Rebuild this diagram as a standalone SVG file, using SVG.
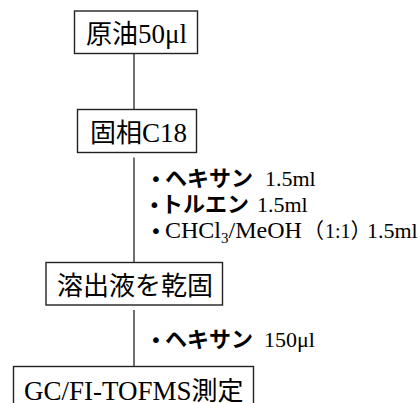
<svg xmlns="http://www.w3.org/2000/svg" width="420" height="403" viewBox="0 0 420 403">
<style>
.box{fill:#fff;stroke:#222;stroke-width:1.4}
.ln{stroke:#333;stroke-width:1.4;fill:none}
.t{fill:#000}
.jb{font-family:"Noto Sans CJK JP",sans-serif;font-size:26px}
.lb{font-family:"Liberation Serif",serif;font-size:27px}
.js{font-family:"Noto Sans CJK JP",sans-serif;font-size:22px;font-weight:bold}
.jp{font-family:"Noto Sans CJK JP",sans-serif;font-size:21px}
.ls{font-family:"Liberation Serif",serif;font-size:22px}
.bu{font-family:"DejaVu Sans",sans-serif;font-size:20px}
</style>
<rect width="420" height="403" fill="#fff"/>
<g id="connectors">
<line class="ln" x1="134" y1="53.5" x2="134" y2="109.5"/>
<line class="ln" x1="134" y1="157.5" x2="134" y2="262.5"/>
<line class="ln" x1="134" y1="310" x2="134" y2="366.5"/>
</g>
<g id="node1">
<rect class="box" x="74.5" y="11" width="123" height="42.5"/>
<text class="t" y="43"><tspan class="jb" x="86">原油</tspan><tspan class="lb">50μl</tspan></text>
</g>
<g id="node2">
<rect class="box" x="77.5" y="109.5" width="119" height="43"/>
<text class="t" y="142"><tspan class="jb" x="90">固相</tspan><tspan class="lb">C18</tspan></text>
</g>
<g id="node3">
<rect class="box" x="46" y="262.5" width="176.5" height="42.5"/>
<text class="t jb" x="57" y="295">溶出液を乾固</text>
</g>
<g id="node4">
<rect class="box" x="13.5" y="366.5" width="240" height="45"/>
<text class="t" y="399.5"><tspan class="lb" x="24">GC/FI-TOFMS</tspan><tspan class="jb">測定</tspan></text>
</g>
<g id="labels">
<text class="t" y="186"><tspan class="bu" x="150">•</tspan><tspan class="js" x="165">ヘキサン</tspan><tspan class="ls" x="265">1.5ml</tspan></text>
<text class="t" y="212"><tspan class="bu" x="148.5">•</tspan><tspan class="js" x="161">トルエン</tspan><tspan class="ls" x="257">1.5ml</tspan></text>
<text class="t" y="238"><tspan class="bu" x="150">•</tspan><tspan class="ls" x="165" style="font-size:24px">CHCl</tspan><tspan class="ls" style="font-size:15px" x="221" dy="5">3</tspan><tspan class="ls" x="228.5" dy="-5" style="font-size:24px">/MeOH</tspan><tspan class="jp" x="303">（</tspan><tspan class="ls" style="font-size:20px" x="325">1:1</tspan><tspan class="jp" x="350.5">）</tspan><tspan class="ls" x="367">1.5ml</tspan></text>
<text class="t" y="347"><tspan class="bu" x="150">•</tspan><tspan class="js" x="165">ヘキサン</tspan><tspan class="ls" x="264">150μl</tspan></text>
</g>
</svg>
